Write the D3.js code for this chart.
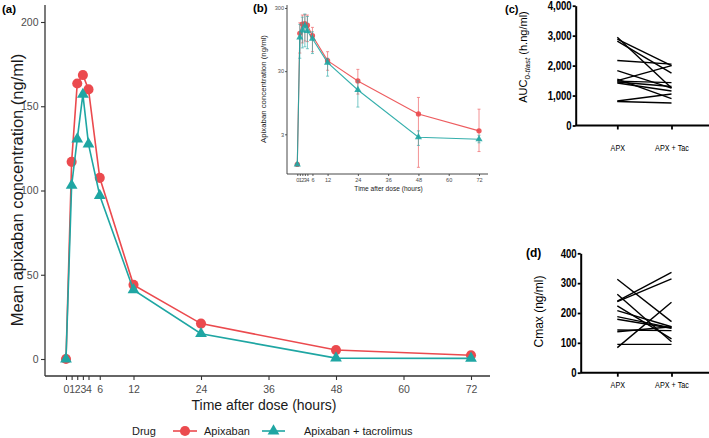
<!DOCTYPE html>
<html><head><meta charset="utf-8">
<script src="https://cdn.jsdelivr.net/npm/d3@7"></script>
<style>
html,body{margin:0;padding:0;background:#fff;}
svg{display:block;}
</style></head>
<body>
<svg id="c" width="709" height="438"></svg>
<script>
// ---------- DATA ----------
const times = [0, 1, 2, 3, 4, 6, 12, 24, 48, 72];
const xTicks = [0, 1, 2, 3, 4, 6, 12, 24, 36, 48, 60, 72];
const seriesNames = ["Apixaban", "Apixaban + tacrolimus"];
// panel (a) linear means
const apixMean    = [0, 117, 163.5, 168.5, 160, 107.5, 44, 21, 5.3, 2.2];
const apixTacMean = [0, 103, 130.5, 157, 127.5, 97, 41, 15, 0.5, 0.4];
const yTicksA = [0, 50, 100, 150, 200];
// panel (b) log-scale means and error bars
const logApixMean = [1, 119, 167, 169, 160, 109, 44, 21, 6.3, 3.4];
const logApixLow  = [1, 58, 84, 90, 88, 61, 31, 13, 0.9, 1.6];
const logApixHigh = [1, 175, 232, 235, 232, 148, 61, 32, 11.5, 7.5];
const logTacMean  = [1, 103, 132, 157, 130, 98, 41, 15.1, 2.7, 2.5];
const logTacLow   = [1, 48, 70, 73, 68, 57, 25, 8.1, 2.0, 2.2];
const logTacHigh  = [1, 165, 215, 241, 220, 126, 48, 21, 3.4, 2.9];
const yTicksB = [3, 30, 300];
// panel (c) AUC0-tlast per subject
const groups = ["APX", "APX + Tac"];
const aucApx    = [2950, 2880, 2820, 2170, 1830, 1550, 1500, 1480, 1450, 1420, 820, 800];
const aucApxTac = [1250, 2000, 1750, 2050, 1250, 900, 2000, 1430, 1300, 1150, 1050, 750];
const yTicksC = [0, 1000, 2000, 3000, 4000];
// panel (d) Cmax per subject
const cmaxApx    = [313, 263, 240, 238, 224, 208, 188, 179, 143, 137, 95, 84];
const cmaxApxTac = [171, 104, 336, 314, 113, 154, 150, 149, 141, 154, 95, 236];
const yTicksD = [0, 100, 200, 300, 400];

// ---------- STYLE ----------
const RED = "#EB4A4E", TEAL = "#1FA6A3";
const GG = "'Liberation Sans', Arial, sans-serif";
const svg = d3.select("#c");
svg.append("rect").attr("width", 709).attr("height", 438).attr("fill", "#fff");

function seriesData(mean){ return times.map((t,i)=>({t, v: mean[i]})); }
function squeeze(sel, f){
  sel.each(function(){
    const L = this.getComputedTextLength();
    if (L > 0) d3.select(this).attr("textLength", L * f).attr("lengthAdjust", "spacingAndGlyphs");
  });
}

// ---------- PANEL A ----------
const xA = d3.scaleLinear().domain([0, 72]).range([66, 471]);
const yA = d3.scaleLinear().domain([0, 200]).range([359, 22]);
const gA = svg.append("g");
const axA = gA.append("g").attr("transform", "translate(0,376)")
  .call(d3.axisBottom(xA).tickValues(xTicks).tickSize(4).tickSizeOuter(0).tickFormat(d3.format("d")));
axA.select(".domain").attr("d", "M45,0H490");
const ayA = gA.append("g").attr("transform", "translate(45,0)")
  .call(d3.axisLeft(yA).tickValues(yTicksA).tickSize(4).tickSizeOuter(0));
ayA.select(".domain").attr("d", "M0,5V376");
[axA, ayA].forEach(a=>{
  a.select(".domain").attr("stroke", "#333").attr("stroke-width", 1.3);
  a.selectAll(".tick line").attr("stroke", "#333").attr("stroke-width", 1.1);
  a.selectAll("text").attr("font-family", GG).attr("font-size", 10.5).attr("fill", "#4D4D4D");
});
axA.selectAll("text").attr("dy", "0.95em");
ayA.selectAll("text").attr("x", -6.5);

const lineA = d3.line().x(d=>xA(d.t)).y(d=>yA(d.v));
[[apixMean, RED, "c"], [apixTacMean, TEAL, "t"]].forEach(([m, col, sh])=>{
  const data = seriesData(m);
  gA.append("path").datum(data).attr("d", lineA).attr("fill", "none")
    .attr("stroke", col).attr("stroke-width", 1.6);
  const sym = sh === "c" ? d3.symbolCircle : d3.symbolTriangle;
  const size = sh === "c" ? 80 : 60;
  gA.selectAll(null).data(data).enter().append("path")
    .attr("d", d3.symbol().type(sym).size(size))
    .attr("transform", d=>`translate(${xA(d.t)},${yA(d.v)})`)
    .attr("fill", col);
});
gA.append("text").attr("transform", "translate(23,190) rotate(-90)")
  .attr("text-anchor", "middle").attr("font-family", GG).attr("font-size", 16.5)
  .attr("fill", "#1a1a1a").text("Mean apixaban concentration (ng/ml)");
gA.append("text").attr("x", 264).attr("y", 410).attr("text-anchor", "middle")
  .attr("font-family", GG).attr("font-size", 14).attr("fill", "#1a1a1a")
  .text("Time after dose (hours)");
gA.append("text").attr("x", 2).attr("y", 13).attr("font-family", GG)
  .attr("font-size", 11.5).attr("font-weight", "bold").text("(a)");

// legend
const lg = svg.append("g").attr("font-family", GG).attr("font-size", 11).attr("fill", "#1a1a1a");
lg.append("text").attr("x", 132).attr("y", 435).text("Drug");
const keys = [{x0: 173, x1: 197, tx: 204, col: RED, sym: d3.symbolCircle, size: 80},
              {x0: 262, x1: 285, tx: 304, col: TEAL, sym: d3.symbolTriangle, size: 60}];
keys.forEach((k, i)=>{
  lg.append("line").attr("x1", k.x0).attr("x2", k.x1).attr("y1", 431).attr("y2", 431)
    .attr("stroke", k.col).attr("stroke-width", 1.6);
  lg.append("path").attr("d", d3.symbol().type(k.sym).size(k.size))
    .attr("transform", `translate(${(k.x0+k.x1)/2},431)`).attr("fill", k.col);
  lg.append("text").attr("x", k.tx).attr("y", 435).text(seriesNames[i]);
});

// ---------- PANEL B (inset, log) ----------
const xB = d3.scaleLinear().domain([0, 72]).range([297.3, 479]);
const yB = d3.scaleLog().domain([3, 300]).range([134.3, 8]);
const gB = svg.append("g");
const axB = gB.append("g").attr("transform", "translate(0,174)")
  .call(d3.axisBottom(xB).tickValues(xTicks).tickSize(2).tickSizeOuter(0).tickFormat(d3.format("d")));
axB.select(".domain").attr("d", "M287,0H488");
const ayB = gB.append("g").attr("transform", "translate(287,0)")
  .call(d3.axisLeft(yB).tickValues(yTicksB).tickSize(2).tickSizeOuter(0).tickFormat(d3.format("d")));
ayB.select(".domain").attr("d", "M0,5V174");
[axB, ayB].forEach(a=>{
  a.select(".domain").attr("stroke", "#333").attr("stroke-width", 0.9);
  a.selectAll(".tick line").attr("stroke", "#333").attr("stroke-width", 0.8);
  a.selectAll("text").attr("font-family", GG).attr("font-size", 5.6).attr("fill", "#4D4D4D");
});
axB.selectAll("text").attr("dy", "1.0em").attr("y", 2);
ayB.selectAll("text").attr("x", -3);

const lineB = d3.line().x(d=>xB(d.t)).y(d=>yB(d.v));
[[logApixMean, logApixLow, logApixHigh, RED, "c"], [logTacMean, logTacLow, logTacHigh, TEAL, "t"]]
.forEach(([m, lo, hi, col, sh])=>{
  const data = times.map((t,i)=>({t, v: m[i], lo: lo[i], hi: hi[i]}));
  const eb = gB.append("g").attr("stroke", col).attr("stroke-width", 0.8).attr("opacity", 0.75);
  data.filter(d=>d.hi > d.lo).forEach(d=>{
    const x = xB(d.t);
    eb.append("line").attr("x1", x).attr("x2", x).attr("y1", yB(d.lo)).attr("y2", yB(d.hi));
    eb.append("line").attr("x1", x-1.5).attr("x2", x+1.5).attr("y1", yB(d.lo)).attr("y2", yB(d.lo));
    eb.append("line").attr("x1", x-1.5).attr("x2", x+1.5).attr("y1", yB(d.hi)).attr("y2", yB(d.hi));
  });
  gB.append("path").datum(data).attr("d", lineB).attr("fill", "none")
    .attr("stroke", col).attr("stroke-width", 1.1).attr("opacity", 0.9);
  const sym = sh === "c" ? d3.symbolCircle : d3.symbolTriangle;
  gB.selectAll(null).data(data).enter().append("path")
    .attr("d", d3.symbol().type(sym).size(22))
    .attr("transform", d=>`translate(${xB(d.t)},${yB(d.v)})`)
    .attr("fill", col).attr("opacity", 0.9);
});
gB.append("text").attr("transform", "translate(266,89) rotate(-90)")
  .attr("text-anchor", "middle").attr("font-family", GG).attr("font-size", 7.8)
  .attr("fill", "#1a1a1a").text("Apixaban concentration (ng/ml)");
gB.append("text").attr("x", 388.5).attr("y", 191).attr("text-anchor", "middle")
  .attr("font-family", GG).attr("font-size", 6.6).attr("fill", "#1a1a1a")
  .text("Time after dose (hours)");
gB.append("text").attr("x", 253).attr("y", 12).attr("font-family", GG)
  .attr("font-size", 11.5).attr("font-weight", "bold").text("(b)");

// ---------- PANELS C & D ----------
function pairedPanel(opts){
  const {yDomain, yRange, axisX, ticks, fmt, a, b, tickLabelY} = opts;
  const x = d3.scalePoint().domain(groups).range([617.3, 671.5]);
  const y = d3.scaleLinear().domain(yDomain).range(yRange);
  const g = svg.append("g");
  const ay = g.append("g").attr("transform", `translate(${axisX},0)`)
    .call(d3.axisLeft(y).tickValues(ticks).tickSize(3).tickSizeOuter(0).tickFormat(fmt));
  const ax = g.append("g").attr("transform", `translate(0,${yRange[0]})`)
    .call(d3.axisBottom(x).tickSize(4).tickSizeOuter(0));
  ax.select(".domain").attr("d", `M${axisX},0H709`);
  [ax, ay].forEach(s=>{
    s.select(".domain").attr("stroke", "#000").attr("stroke-width", 2);
    s.selectAll(".tick line").attr("stroke", "#000").attr("stroke-width", 1.8);
  });
  ay.selectAll("text").attr("font-family", GG).attr("font-weight", "bold")
    .attr("font-size", 12).attr("fill", "#000").attr("x", -4);
  squeeze(ay.selectAll("text"), 0.8);
  ax.selectAll("text").attr("font-family", GG).attr("font-size", 8.5)
    .attr("fill", "#000").attr("y", tickLabelY).attr("dy", "0.35em");
  squeeze(ax.selectAll("text"), 0.85);
  a.forEach((v, i)=>{
    g.append("line").attr("x1", x(groups[0])).attr("y1", y(v))
      .attr("x2", x(groups[1])).attr("y2", y(b[i]))
      .attr("stroke", "#000").attr("stroke-width", 1.4);
  });
  return g;
}
const gC = pairedPanel({yDomain: [0, 4000], yRange: [125.5, 5.7], axisX: 575.7, ticks: yTicksC,
  fmt: d3.format(","), a: aucApx, b: aucApxTac, tickLabelY: 22.5});
const tC = gC.append("text").attr("transform", "translate(527,57) rotate(-90)")
  .attr("text-anchor", "middle").attr("font-family", GG).attr("font-size", 11).attr("fill", "#000");
tC.append("tspan").text("AUC");
tC.append("tspan").attr("font-size", 8).attr("dy", 3).text("0-");
tC.append("tspan").attr("font-size", 8).attr("font-style", "italic").text("tlast");
tC.append("tspan").attr("dy", -3).text(" (h.ng/ml)");
gC.append("text").attr("x", 505).attr("y", 13).attr("font-family", GG)
  .attr("font-size", 11).attr("font-weight", "bold").text("(c)");

const gD = pairedPanel({yDomain: [0, 400], yRange: [372.7, 253.3], axisX: 580.7, ticks: yTicksD,
  fmt: d3.format("d"), a: cmaxApx, b: cmaxApxTac, tickLabelY: 12.5});
gD.append("text").attr("transform", "translate(543,311.5) rotate(-90)")
  .attr("text-anchor", "middle").attr("font-family", GG).attr("font-size", 12)
  .attr("fill", "#000").text("Cmax (ng/ml)");
gD.append("text").attr("x", 526).attr("y", 257).attr("font-family", GG)
  .attr("font-size", 12).attr("font-weight", "bold").text("(d)");
</script>
</body></html>
